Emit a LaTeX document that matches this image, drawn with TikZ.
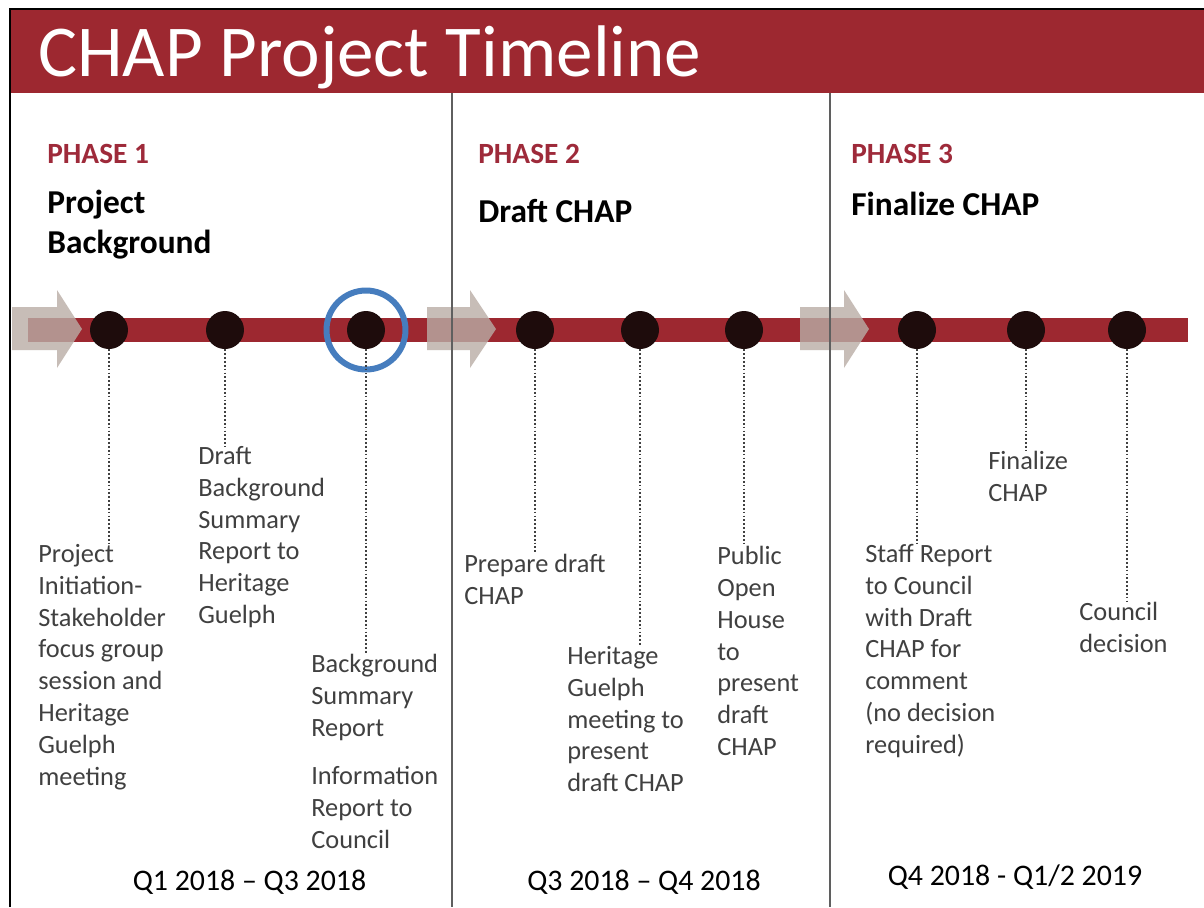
\documentclass[tikz,border=0pt]{standalone}
\usepackage{fontspec}
\setmainfont{Carlito}
\usepackage{xcolor}
\usepackage{tikz}
\definecolor{bandred}{RGB}{157,40,48}
\definecolor{phasered}{RGB}{158,42,58}
\definecolor{bodygray}{RGB}{64,64,64}
\definecolor{arrowgray}{RGB}{185,173,166}
\definecolor{dotcolor}{RGB}{30,12,12}
\definecolor{ringblue}{RGB}{70,125,190}
\definecolor{sepgray}{RGB}{95,95,95}

\begin{document}
\begin{tikzpicture}[
    x=0.02cm, y=-0.02cm,
    headline/.style={anchor=base west, inner sep=0pt, text=white, font=\fontsize{41.6}{50}\selectfont},
    phase/.style={anchor=base west, inner sep=0pt, text=phasered, font=\bfseries\fontsize{16.7}{20}\selectfont},
    stage/.style={anchor=north west, inner sep=0pt, align=left, font=\bfseries\fontsize{19}{22.7}\selectfont, execute at begin node=\strut},
    milestone/.style={anchor=north west, inner sep=0pt, align=left, text=bodygray, font=\fontsize{15}{18.1}\selectfont, execute at begin node=\strut},
    quarter/.style={anchor=base, inner sep=0pt, font=\fontsize{17}{20}\selectfont},
    dot/.style={circle, fill=dotcolor, minimum size=0.76cm, inner sep=0pt},
    ring/.style={circle, draw=ringblue, line width=3.4pt, minimum size=1.58cm, inner sep=0pt},
    blockarrow/.style={fill=arrowgray, fill opacity=0.8},
    leader/.style={draw=bodygray, line width=1pt, dash pattern=on 1pt off 1.2pt},
    divider/.style={draw=sepgray, line width=0.8pt}
]
    \useasboundingbox (0,0) rectangle (1204,907);
    \fill[white] (0,0) rectangle (1204,907);

    % Title band
    \fill[bandred] (10,9) rectangle (1204,93);
    \draw[line width=1.7pt] (10,907) -- (10,9) -- (1204,9);
    \node[headline] (title) at (38,76) {CHAP Project Timeline};

    % Phase headers
    \node[phase] (p1) at (47,163) {PHASE 1};
    \node[phase] (p2) at (478,163) {PHASE 2};
    \node[phase] (p3) at (851,163) {PHASE 3};
    \node[stage] (s1) at (47,190) {Project\\Background};
    \node[stage] (s2) at (478,194) {Draft CHAP};
    \node[stage] (s3) at (851,187) {Finalize CHAP};

    % Timeline bar and arrows
    \fill[bandred] (28,318) rectangle (1188,342);
    \fill[blockarrow] (12,307) -- (57,307) -- (57,290) -- (82,329) -- (57,368) -- (57,350) -- (12,350) -- cycle;
    \fill[blockarrow] (427,307) -- (470,307) -- (470,290) -- (496,329) -- (470,368) -- (470,350) -- (427,350) -- cycle;
    \fill[blockarrow] (800,307) -- (844,307) -- (844,290) -- (869,329) -- (844,368) -- (844,350) -- (800,350) -- cycle;

    % Dividers
    \draw[divider] (452,93) -- (452,907);
    \draw[divider] (830,93) -- (830,907);

    % Milestones
    \node[dot] (d1) at (109,330) {};
    \node[dot] (d2) at (225,330) {};
    \node[dot] (d3) at (366,330) {};
    \node[dot] (d4) at (535,330) {};
    \node[dot] (d5) at (640,330) {};
    \node[dot] (d6) at (744,330) {};
    \node[dot] (d7) at (917,330) {};
    \node[dot] (d8) at (1026,330) {};
    \node[dot] (d9) at (1127,330) {};
    \node[ring] (hl) at (d3) {};

    % Milestone texts
    \node[milestone] (t1) at (38,544) {Project\\Initiation-\\Stakeholder\\focus group\\session and\\Heritage\\Guelph\\meeting};
    \node[milestone] (t2) at (198,446) {Draft\\Background\\Summary\\Report to\\Heritage\\Guelph};
    \node[milestone] (t3) at (311,654) {Background\\Summary\\Report\\[9.6pt]Information\\Report to\\Council};
    \node[milestone] (t4) at (464,554) {Prepare draft\\CHAP};
    \node[milestone] (t5) at (567,646) {Heritage\\Guelph\\meeting to\\present\\draft CHAP};
    \node[milestone] (t6) at (717,546) {Public\\Open\\House\\to\\present\\draft\\CHAP};
    \node[milestone] (t7) at (865,544) {Staff Report\\to Council\\with Draft\\CHAP for\\comment\\(no decision\\required)};
    \node[milestone] (t8) at (988,451) {Finalize\\CHAP};
    \node[milestone] (t9) at (1079,602) {Council\\decision};

    % Leaders
    \draw[leader] (d1.south) -- (d1.south |- t1.north);
    \draw[leader] (d2.south) -- (d2.south |- t2.north);
    \draw[leader] (d3.south) -- (d3.south |- t3.north);
    \draw[leader] (d4.south) -- (d4.south |- t4.north);
    \draw[leader] (d5.south) -- (d5.south |- t5.north);
    \draw[leader] (d6.south) -- (d6.south |- t6.north);
    \draw[leader] (d7.south) -- (d7.south |- t7.north);
    \draw[leader] (d8.south) -- (d8.south |- t8.north);
    \draw[leader] (d9.south) -- (d9.south |- t9.north);

    % Quarters
    \node[quarter] (q1) at (249.5,890) {Q1 2018 – Q3 2018};
    \node[quarter] (q2) at (644,890) {Q3 2018 – Q4 2018};
    \node[quarter] (q3) at (1015,885) {Q4 2018 - Q1/2 2019};
\end{tikzpicture}
\end{document}
